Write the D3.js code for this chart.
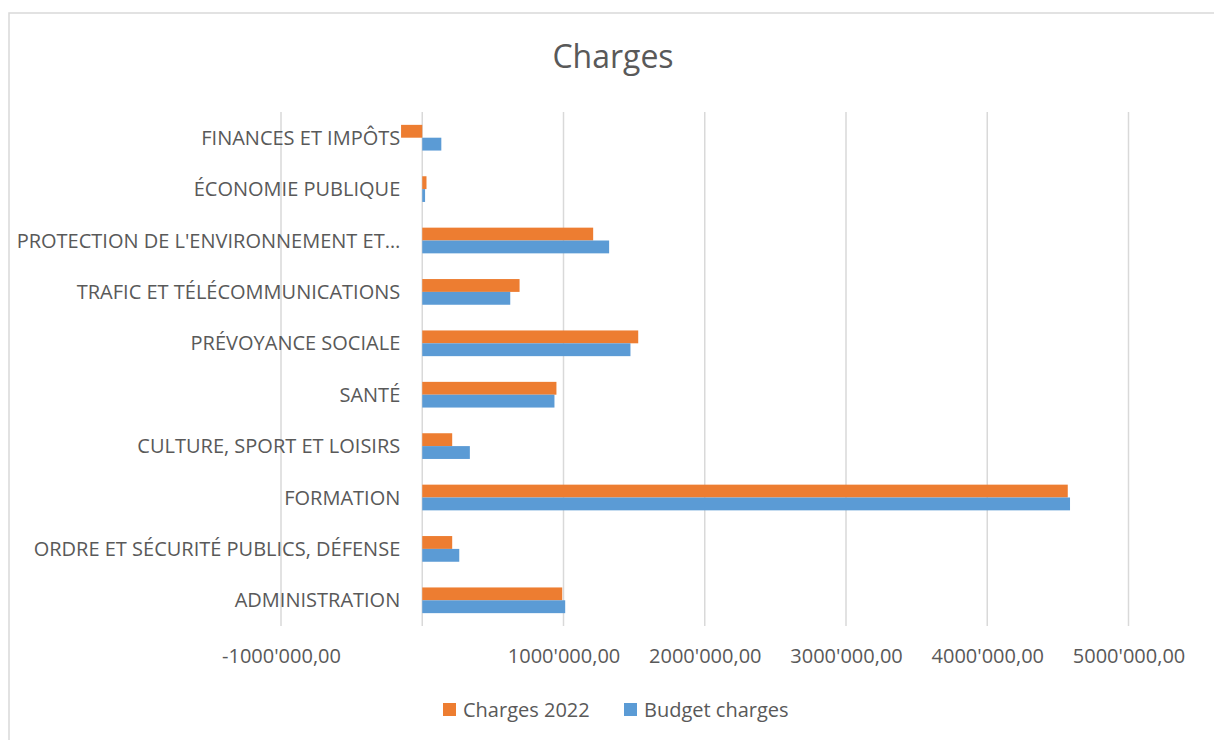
<!DOCTYPE html>
<html>
<head>
<meta charset="utf-8">
<script src="https://cdn.jsdelivr.net/npm/d3@7"></script>
<style>
  body { margin: 0; background: #fff; }
  text { font-family: "Open Sans", sans-serif; fill: #595959; }
</style>
</head>
<body>
<svg id="chart"></svg>
<script>
// categories from top to bottom, as shown
const categories = [
  "FINANCES ET IMPÔTS",
  "ÉCONOMIE PUBLIQUE",
  "PROTECTION DE L'ENVIRONNEMENT ET…",
  "TRAFIC ET TÉLÉCOMMUNICATIONS",
  "PRÉVOYANCE SOCIALE",
  "SANTÉ",
  "CULTURE, SPORT ET LOISIRS",
  "FORMATION",
  "ORDRE ET SÉCURITÉ PUBLICS, DÉFENSE",
  "ADMINISTRATION"
];
const charges2022 = [-150000, 30000, 1210000, 689000, 1529000, 950000, 212000, 4570000, 212000, 991000];
const budgetCharges = [135000, 20000, 1323000, 623000, 1474000, 936000, 337000, 4586000, 262000, 1012000];
const seriesNames = ["Charges 2022", "Budget charges"];
const tickValues = [-1000000, 0, 1000000, 2000000, 3000000, 4000000, 5000000];

const colors = ["#ed7d31", "#5b9bd5"];
const width = 1214, height = 740;

const svg = d3.select('#chart')
    .attr('width', width)
    .attr('height', height);

// chart border
svg.append('rect')
    .attr('x', 9).attr('y', 13)
    .attr('width', width + 10).attr('height', height + 10)
    .style('fill', 'none')
    .style('stroke', '#d9d9d9')
    .style('stroke-width', 1.5);

const x = d3.scaleLinear()
    .domain([-1000000, 5000000])
    .range([281, 1128.5]);

const y = d3.scaleBand()
    .domain(categories)
    .range([112, 626])
    .paddingInner(0.5)
    .paddingOuter(0.25);

const y1 = d3.scaleBand()
    .domain(seriesNames)
    .range([0, y.bandwidth()]);

// numbers like 1000'000,00
const locale = d3.formatLocale({decimal: ",", thousands: "'", grouping: [3, 4], currency: ["", ""], minus: "-"});
const fmt = locale.format(",.2f");

// gridlines
svg.append('g')
    .selectAll('line')
    .data(tickValues)
    .enter().append('line')
    .attr('x1', d => x(d)).attr('x2', d => x(d))
    .attr('y1', 112).attr('y2', 626)
    .style('stroke', '#d9d9d9')
    .style('stroke-width', 1.5);

// x axis labels
const xAxis = d3.axisBottom(x)
    .tickValues(tickValues)
    .tickSize(0)
    .tickFormat(d => d === 0 ? "" : fmt(d));

svg.append('g')
    .attr('transform', 'translate(0,646)')
    .call(xAxis)
    .call(g => g.select('.domain').remove())
    .selectAll('text')
    .style('font-size', '20px')
    .style('fill', '#595959')
    .style('font-family', '"Open Sans", sans-serif');

// bars
const rows = categories.map((c, i) => ({cat: c, vals: [charges2022[i], budgetCharges[i]]}));

const groups = svg.append('g')
    .selectAll('g')
    .data(rows)
    .enter().append('g')
    .attr('transform', d => 'translate(0,' + y(d.cat) + ')');

groups.selectAll('rect')
    .data(d => d.vals.map((v, k) => ({v: v, s: seriesNames[k], k: k})))
    .enter().append('rect')
    .attr('x', d => x(Math.min(0, d.v)))
    .attr('width', d => Math.abs(x(d.v) - x(0)))
    .attr('y', d => y1(d.s))
    .attr('height', y1.bandwidth())
    .style('fill', d => colors[d.k]);

// category labels next to the axis
svg.append('g')
    .selectAll('text')
    .data(categories)
    .enter().append('text')
    .attr('x', x(0) - 22)
    .attr('y', d => y(d) + y.bandwidth() / 2)
    .attr('dy', '0.35em')
    .style('text-anchor', 'end')
    .style('font-size', '20px')
    .text(d => d);

// title
svg.append('text')
    .attr('x', 613)
    .attr('y', 57)
    .attr('dy', '0.35em')
    .style('text-anchor', 'middle')
    .style('font-size', '32px')
    .text('Charges');

// legend
const legendX = [443, 624];
const legend = svg.selectAll('.legend')
    .data(seriesNames)
    .enter().append('g')
    .attr('class', 'legend')
    .attr('transform', (d, i) => 'translate(' + legendX[i] + ',703)');

legend.append('rect')
    .attr('width', 13).attr('height', 13)
    .style('fill', (d, i) => colors[i]);

legend.append('text')
    .attr('x', 20)
    .attr('y', 6.5)
    .attr('dy', '0.35em')
    .style('font-size', '20px')
    .text(d => d);
</script>
</body>
</html>
